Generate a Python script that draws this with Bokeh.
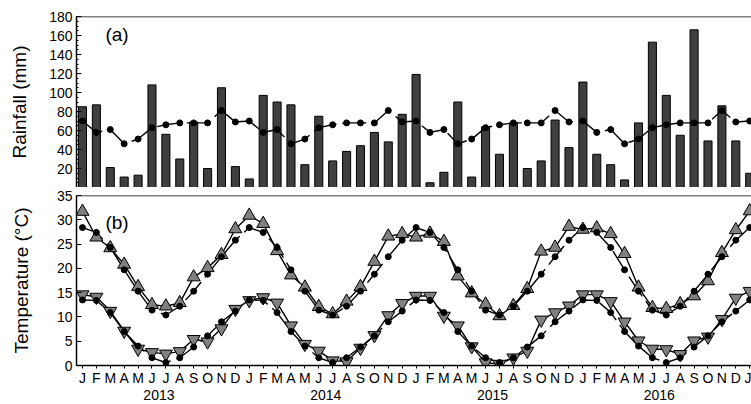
from bokeh.plotting import figure
from bokeh.layouts import column
from bokeh.models import Range1d, FixedTicker, LinearAxis, Span, Label
from bokeh.embed import file_html
from bokeh.resources import INLINE

FONT = "Liberation Sans"

month_letters = ["J", "F", "M", "A", "M", "J", "J", "A", "S", "O", "N", "D",
                 "J", "F", "M", "A", "M", "J", "J", "A", "S", "O", "N", "D",
                 "J", "F", "M", "A", "M", "J", "J", "A", "S", "O", "N", "D",
                 "J", "F", "M", "A", "M", "J", "J", "A", "S", "O", "N", "D",
                 "J"]
year_labels = ["2013", "2014", "2015", "2016"]
year_pos = [5.5, 17.5, 29.5, 41.5]

# monthly rainfall (mm), Jan 2013 - Jan 2017
rain = [85, 87, 21, 11, 13, 108, 56, 30, 69, 20, 105, 22,
        9, 97, 90, 87, 24, 75, 28, 38, 44, 58, 48, 77,
        119, 5, 16, 90, 11, 64, 35, 68, 20, 28, 71, 42,
        111, 35, 24, 8, 68, 153, 97, 55, 166, 49, 86, 49,
        15]
# long-term mean rainfall (mm)
rain_lt = [70, 58, 61, 46, 51, 63, 66, 68, 68, 68, 81, 69,
           70, 58, 61, 46, 51, 63, 66, 68, 68, 68, 81, 69,
           70, 58, 61, 46, 51, 63, 66, 68, 68, 68, 81, 69,
           70, 58, 61, 46, 51, 63, 66, 68, 68, 68, 81, 69,
           70]

# observed max / min temperature (deg C)
tmax = [31.7, 26.4, 24.2, 20.8, 16.2, 12.5, 12.2, 12.9, 18.2, 20.1, 22.8, 28.1,
        30.9, 29.2, 23.6, 18.6, 16.1, 12.1, 10.6, 13.2, 16.2, 21.4, 26.6, 27.1,
        26.4, 27.2, 25.5, 18.4, 14.9, 12.6, 10.2, 12.3, 15.8, 23.5, 24.3, 28.6,
        28.0, 28.3, 27.1, 23.0, 16.1, 11.9, 11.7, 12.7, 14.3, 17.4, 23.2, 27.9,
        31.8]
tmin = [14.6, 14.1, 11.2, 7.1, 3.4, 2.7, 2.4, 2.9, 5.4, 4.9, 7.6, 11.6,
        13.4, 14.0, 12.9, 8.2, 4.4, 3.0, 1.0, 0.8, 3.6, 6.2, 10.3, 12.8,
        14.3, 14.3, 10.2, 8.2, 3.9, 0.6, 0.3, 1.6, 3.0, 9.4, 10.9, 12.3,
        14.6, 14.6, 13.2, 9.0, 5.1, 3.4, 3.3, 2.3, 5.1, 5.9, 9.5, 13.9,
        15.3]
# long-term mean max / min temperature (deg C)
tmax_lt = [28.4, 27.4, 24.3, 19.7, 15.3, 11.4, 10.4, 12.2, 15.3, 18.8, 22.4, 25.8,
           28.4, 27.4, 24.3, 19.7, 15.3, 11.4, 10.4, 12.2, 15.3, 18.8, 22.4, 25.8,
           28.4, 27.4, 24.3, 19.7, 15.3, 11.4, 10.4, 12.2, 15.3, 18.8, 22.4, 25.8,
           28.4, 27.4, 24.3, 19.7, 15.3, 11.4, 10.4, 12.2, 15.3, 18.8, 22.4, 25.8,
           28.4]
tmin_lt = [13.5, 13.4, 10.9, 7.0, 4.0, 1.6, 0.6, 1.6, 3.8, 6.1, 9.0, 11.2,
           13.5, 13.4, 10.9, 7.0, 4.0, 1.6, 0.6, 1.6, 3.8, 6.1, 9.0, 11.2,
           13.5, 13.4, 10.9, 7.0, 4.0, 1.6, 0.6, 1.6, 3.8, 6.1, 9.0, 11.2,
           13.5, 13.4, 10.9, 7.0, 4.0, 1.6, 0.6, 1.6, 3.8, 6.1, 9.0, 11.2,
           13.5]

x = list(range(len(rain)))
XMIN, XMAX = -0.43, 48.13
DASH = "24 6"


def style_left_axis(ax, ticks, minor, label, standoff):
    ax.ticker = FixedTicker(ticks=ticks, minor_ticks=minor)
    ax.axis_label = label
    ax.axis_label_text_font = FONT
    ax.axis_label_text_font_size = "19px"
    ax.axis_label_text_font_style = "normal"
    ax.axis_label_text_color = "black"
    ax.axis_label_standoff = standoff
    ax.major_label_text_font = FONT
    ax.major_label_text_font_size = "14px"
    ax.major_label_text_color = "black"
    ax.major_label_standoff = 4
    ax.major_tick_in = 5
    ax.major_tick_out = 0
    ax.minor_tick_in = 2
    ax.minor_tick_out = 0
    ax.axis_line_width = 1.5
    ax.axis_line_color = "black"
    ax.major_tick_line_color = "black"
    ax.minor_tick_line_color = "black"


# ---------- (a) rainfall ----------
p1 = figure(width=751, height=187, x_range=Range1d(XMIN, XMAX), y_range=Range1d(0, 180),
            output_backend="svg", toolbar_location=None, x_axis_type=None,
            min_border_left=76, min_border_right=0, min_border_top=16, min_border_bottom=0)
p1.outline_line_color = None
p1.grid.visible = False
style_left_axis(p1.yaxis[0], list(range(20, 181, 20)), list(range(0, 181, 5)), "Rainfall (mm)", 16)

p1.vbar(x=x, top=rain, width=0.58, bottom=0, fill_color="#3f3f3f", line_color="black", line_width=1)
p1.line(x, rain_lt, line_color="black", line_width=1.4, line_dash=DASH)
p1.scatter(x, rain_lt, size=6, fill_color="black", line_color="black")
p1.add_layout(Span(location=180, dimension="width", line_color="black", line_width=1.5))
p1.add_layout(Span(location=0, dimension="width", line_color="black", line_width=1.2))
p1.add_layout(Label(x=1.65, y=161, text="(a)", text_font=FONT, text_font_size="19px",
                    text_baseline="middle", text_align="left", text_color="black"))

# ---------- (b) temperature ----------
p2 = figure(width=751, height=217, x_range=Range1d(XMIN, XMAX), y_range=Range1d(0, 35),
            output_backend="svg", toolbar_location=None,
            min_border_left=76, min_border_right=0, min_border_top=8, min_border_bottom=39)
p2.outline_line_color = None
p2.grid.visible = False
style_left_axis(p2.yaxis[0], list(range(0, 36, 5)), [], "Temperature (°C)", 22)

xa = p2.xaxis[0]
xa.ticker = FixedTicker(ticks=x)
xa.major_label_overrides = {i: month_letters[i] for i in x}
xa.major_label_text_font = FONT
xa.major_label_text_font_size = "14px"
xa.major_label_text_color = "black"
xa.major_label_standoff = 1
xa.major_tick_in = 0
xa.major_tick_out = 3
xa.minor_tick_line_color = None
xa.axis_line_width = 1.5
xa.axis_line_color = "black"

ya = LinearAxis(ticker=FixedTicker(ticks=year_pos),
                major_label_overrides={year_pos[i]: year_labels[i] for i in range(len(year_pos))},
                axis_line_color=None, major_tick_line_color=None, minor_tick_line_color=None,
                major_tick_in=0, major_tick_out=0, major_label_standoff=1,
                major_label_text_font=FONT, major_label_text_font_size="14px",
                major_label_text_color="black")
p2.add_layout(ya, "below")

p2.line(x, tmax_lt, line_color="black", line_width=1.4, line_dash=DASH)
p2.line(x, tmin_lt, line_color="black", line_width=1.4, line_dash=DASH)
p2.line(x, tmax, line_color="black", line_width=1.4)
p2.line(x, tmin, line_color="black", line_width=1.4)
p2.scatter(x, tmax, marker="triangle", size=13, fill_color="#808080", line_color="black", line_width=1)
p2.scatter(x, tmin, marker="inverted_triangle", size=13, fill_color="#808080", line_color="black", line_width=1)
p2.scatter(x, tmax_lt, size=6, fill_color="black", line_color="black")
p2.scatter(x, tmin_lt, size=6, fill_color="black", line_color="black")
p2.add_layout(Span(location=35, dimension="width", line_color="black", line_width=1.5))
p2.add_layout(Label(x=1.65, y=29.5, text="(b)", text_font=FONT, text_font_size="19px",
                    text_baseline="middle", text_align="left", text_color="black"))

layout = column(p1, p2, spacing=0)
open("out.html", "w").write(file_html(layout, INLINE))
